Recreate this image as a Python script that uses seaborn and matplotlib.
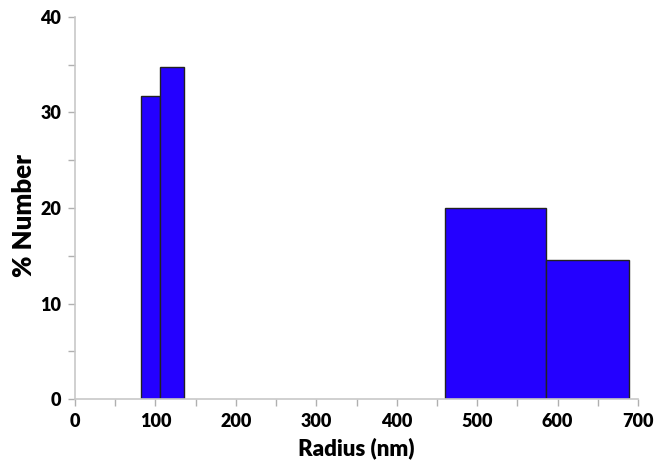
import matplotlib
matplotlib.use("Agg")
import matplotlib.pyplot as plt
import pandas as pd
import seaborn as sns
from matplotlib.ticker import MultipleLocator

# size distribution
bin_edges = [82.5, 105.5, 135.5, 460, 585, 689]
percent_number = [31.7, 34.8, 0.0, 20.0, 14.6]

sns.set_theme(style="white")
plt.rcParams["font.family"] = ["Lato", "DejaVu Sans"]
plt.rcParams["font.weight"] = "heavy"

centers = [(a + b) / 2 for a, b in zip(bin_edges[:-1], bin_edges[1:])]
df = pd.DataFrame({"radius": centers, "pct": percent_number})

fig = plt.figure(figsize=(6.64, 4.68), dpi=100)
ax = fig.add_axes([0.113, 0.147, 0.848, 0.817])

sns.histplot(data=df, x="radius", weights="pct", bins=bin_edges, ax=ax,
             color="#2400ff", alpha=1, edgecolor="#222222", linewidth=1.0)
for patch in ax.patches:
    if patch.get_height() == 0:
        patch.set_visible(False)

ax.set_xlim(0, 700)
ax.set_ylim(0, 40)
ax.xaxis.set_major_locator(MultipleLocator(100))
ax.xaxis.set_minor_locator(MultipleLocator(50))
ax.yaxis.set_major_locator(MultipleLocator(10))
ax.yaxis.set_minor_locator(MultipleLocator(5))

for side in ["top", "right"]:
    ax.spines[side].set_visible(False)
for side in ["left", "bottom"]:
    ax.spines[side].set_color("#c8c8c8")
    ax.spines[side].set_linewidth(1.2)

ax.tick_params(which="both", direction="out", color="#b0b0b0", width=1,
               bottom=True, left=True)
ax.tick_params(which="major", length=5, labelsize=13, pad=5,
               labelcolor="black")
ax.tick_params(which="minor", length=5)
for lbl in ax.get_xticklabels() + ax.get_yticklabels():
    lbl.set_fontweight("heavy")

ax.set_xlabel("Radius (nm)", fontsize=16, fontweight="heavy", labelpad=5,
              color="black")
ax.set_ylabel("% Number", fontsize=18.5, fontweight="heavy", color="black",
              va="center")
ax.yaxis.set_label_coords(-0.09, 0.48)

fig.savefig("out.png", dpi=100)
